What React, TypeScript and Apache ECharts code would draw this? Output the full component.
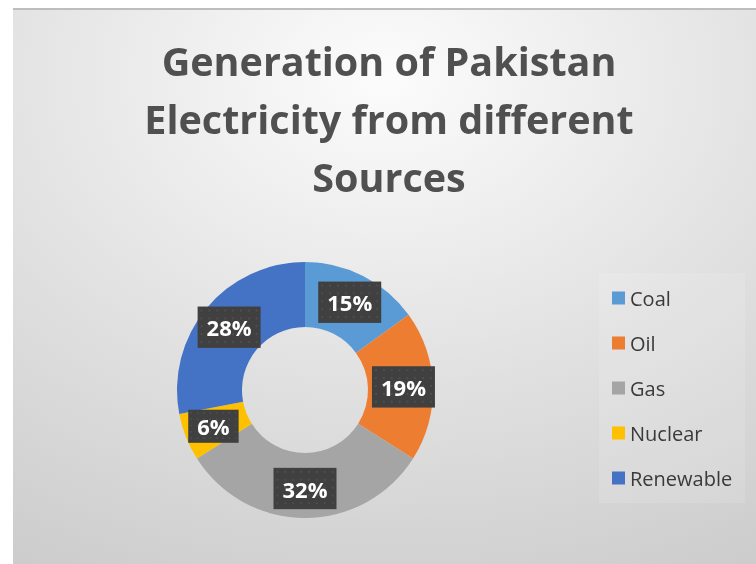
import React, { useEffect, useRef } from "react";
import * as echarts from "echarts";

const titleLines = ["Generation of Pakistan", "Electricity from different", "Sources"];
const categories = ["Coal", "Oil", "Gas", "Nuclear", "Renewable"];
const shares = [15, 19, 32, 6, 28];
const colors = ["#5B9BD5", "#ED7D31", "#A5A5A5", "#FFC000", "#4472C4"];

function makePattern(): string {
  const c = document.createElement("canvas");
  c.width = 64;
  c.height = 42;
  const g = c.getContext("2d");
  if (!g) return "";
  g.fillStyle = "#404040";
  g.fillRect(0, 0, 64, 42);
  g.fillStyle = "#4e4e4e";
  for (let y = 3; y < 42; y += 8) {
    for (let x = 3; x < 64; x += 8) {
      g.fillRect(x, y, 2, 2);
    }
  }
  return c.toDataURL();
}

export default function App() {
  const ref = useRef<HTMLDivElement>(null);
  useEffect(() => {
    document.body.style.margin = "0";
    if (!ref.current) return;
    const chart = echarts.init(ref.current, undefined, { renderer: "svg" });
    const pattern = makePattern();
    chart.setOption({
      animation: false,
      backgroundColor: {
        type: "radial",
        x: 0.5,
        y: 0.12,
        r: 1.1,
        colorStops: [
          { offset: 0, color: "#fcfcfc" },
          { offset: 0.5, color: "#e1e1e1" },
          { offset: 1, color: "#c8c8c8" },
        ],
      },
      graphic: [
        {
          type: "text",
          x: 376,
          y: 22,
          style: {
            text: titleLines.join("\n"),
            fontFamily: "Open Sans",
            fontWeight: "bold",
            fontSize: 39.5,
            lineHeight: 58,
            fill: "#505050",
            align: "center",
            verticalAlign: "top",
          },
        },
      ],
      legend: {
        orient: "vertical",
        left: 586,
        top: 263,
        padding: [15, 13, 15, 13],
        backgroundColor: "rgba(255,255,255,0.12)",
        itemWidth: 13,
        itemHeight: 13,
        itemGap: 25,
        icon: "rect",
        data: categories,
        textStyle: { fontFamily: "Open Sans", fontSize: 20, lineHeight: 20, color: "#3a3a3a" },
      },
      series: [
        {
          type: "pie",
          center: [292, 380],
          radius: [63, 128],
          startAngle: 90,
          clockwise: true,
          avoidLabelOverlap: false,
          label: {
            show: true,
            position: "inside",
            formatter: (p: any) => p.value + "%",
            fontFamily: "Open Sans",
            fontWeight: "bold",
            fontSize: 22,
            lineHeight: 26,
            color: "#ffffff",
            backgroundColor: pattern ? { image: pattern } : "#404040",
            padding: [8, 9],
            shadowColor: "rgba(0,0,0,0.4)",
            shadowBlur: 6,
            shadowOffsetX: 2,
            shadowOffsetY: 3,
          },
          labelLine: { show: false },
          emphasis: { disabled: true },
          data: categories.map((name, i) => ({
            name,
            value: shares[i],
            itemStyle: { color: colors[i] },
          })),
        },
      ],
    });
    return () => chart.dispose();
  }, []);
  return (
    <div
      ref={ref}
      style={{
        position: "fixed",
        left: 13,
        top: 8,
        width: 743,
        height: 556,
        borderTop: "2px solid #bdbdbd",
        boxSizing: "border-box",
      }}
    />
  );
}
